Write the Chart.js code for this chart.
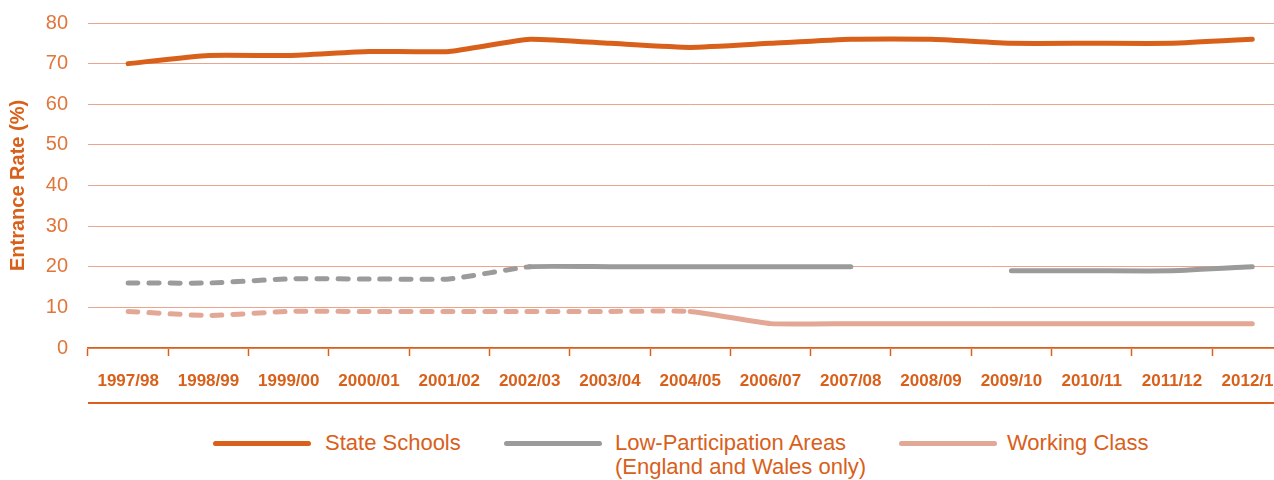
<!DOCTYPE html>
<html>
<head>
<meta charset="utf-8">
<script src="https://cdn.jsdelivr.net/npm/chart.js@4.4.1/dist/chart.umd.min.js"></script>
<style>
body{margin:0;overflow:hidden;background:#fff;width:1274px;height:480px;position:relative;font-family:"Liberation Sans",Arial,sans-serif;}
#wrap{position:absolute;left:0;top:0;width:1298px;height:400px;}
.rule{position:absolute;left:88px;top:402px;width:1200px;height:2px;background:#d9601a;}
.key{position:absolute;top:431px;height:24px;}
.key i{position:absolute;left:0;top:10px;width:98px;height:5px;border-radius:3px;}
.key span{position:absolute;top:0;white-space:nowrap;color:#d9601a;font-size:22px;line-height:24px;}
</style>
</head>
<body>
<div id="wrap"><canvas id="chart" width="1298" height="400"></canvas></div>
<div class="rule"></div>
<div class="key" style="left:213px"><i style="background:#d9601a"></i><span style="left:112px">State Schools</span></div>
<div class="key" style="left:504px"><i style="background:#9b9b9b"></i><span style="left:111px">Low-Participation Areas<br>(England and Wales only)</span></div>
<div class="key" style="left:899px"><i style="background:#e3a796"></i><span style="left:108px">Working Class</span></div>
<script>
// ================================
// Data
// ================================

const years=["1997/98","1998/99","1999/00","2000/01","2001/02","2002/03","2003/04","2004/05","2006/07","2007/08","2008/09","2009/10","2010/11","2011/12","2012/13"];

const stateSchools=[70,72,72,73,73,76,75,74,75,76,76,75,75,75,76];

const lowParticipation=[16,16,17,17,17,20,20,20,20,20,null,19,19,19,20];

const workingClass=[9,8,9,9,9,9,9,9,6,6,6,6,6,6,6];

const yTicks=[0,10,20,30,40,50,60,70,80];

// ================================
// Style
// ================================

const orange="#d9601a";
const grey="#9b9b9b";
const salmon="#e3a796";
const dash=[10,11];

// dashed up to this data index, solid after
function dashedUntil(last){
  return {
    borderDash:ctx=>ctx.p1DataIndex<=last?dash:undefined
  };
}

const chart=new Chart(document.getElementById("chart"),{
  type:"line",
  data:{
    labels:years,
    datasets:[
      {label:"Working Class",data:workingClass,borderColor:salmon,segment:dashedUntil(7)},
      {label:"Low-Participation Areas",data:lowParticipation,borderColor:grey,segment:dashedUntil(5)},
      {label:"State Schools",data:stateSchools,borderColor:orange}
    ]
  },
  options:{
    responsive:false,
    animation:false,
    layout:{padding:{top:23,bottom:0,left:0,right:0}},
    elements:{
      line:{borderWidth:5,borderCapStyle:"round",borderJoinStyle:"round",tension:0.15,fill:false},
      point:{radius:0,hoverRadius:0}
    },
    plugins:{legend:{display:false},tooltip:{enabled:false}},
    scales:{
      x:{
        offset:true,
        afterFit:axis=>{axis.height=52;},
        grid:{offset:true,drawOnChartArea:false,drawTicks:true,tickLength:8,tickColor:orange,tickWidth:1.5},
        border:{display:true,color:orange,width:1.5},
        ticks:{color:orange,font:{family:"Liberation Sans",size:17,weight:"bold"},padding:15,maxRotation:0,autoSkip:false}
      },
      y:{
        min:0,max:80,
        afterFit:axis=>{axis.width=88;axis.paddingTop=0;axis.paddingBottom=0;},
        afterBuildTicks:axis=>{axis.ticks=yTicks.map(v=>({value:v}));},
        grid:{color:"#eaa58e",lineWidth:1,drawTicks:false},
        border:{display:false},
        ticks:{color:"#e0763a",font:{family:"Liberation Sans",size:20},padding:20},
        title:{display:true,text:"Entrance Rate (%)",color:orange,font:{family:"Liberation Sans",size:20,weight:"bold"},padding:{top:6,bottom:0}}
      }
    }
  }
});
</script>
</body>
</html>
